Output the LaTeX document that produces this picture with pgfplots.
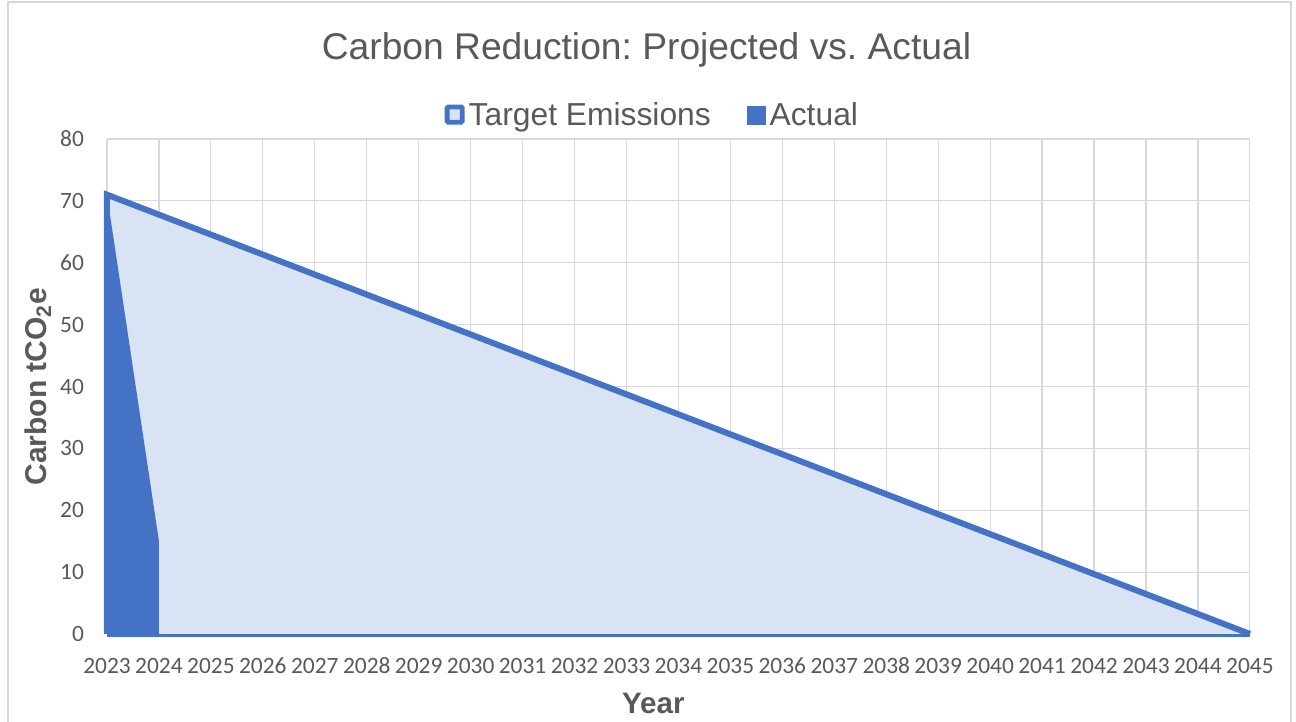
\documentclass[border=0pt]{standalone}
\usepackage{pgfplots}
\pgfplotsset{compat=1.18}
\usepackage{fontspec}
\setmainfont{Liberation Sans}
\newfontfamily\calfont{Carlito}
\frenchspacing
\definecolor{sblue}{HTML}{4472C4}
\definecolor{sfill}{HTML}{DAE3F3}
\definecolor{gridc}{HTML}{D9D9D9}
\definecolor{txt}{HTML}{595959}
\begin{document}
\begin{tikzpicture}
\useasboundingbox (0,0) rectangle (648pt,361pt);
\draw[gridc, line width=0.6pt] (4pt,-5pt) -- (4pt,360pt) -- (645.5pt,360pt) -- (645.5pt,-5pt);
\begin{axis}[
  at={(53.5pt,44pt)}, anchor=south west,
  scale only axis, width=571.5pt, height=247.5pt,
  xmin=2023, xmax=2045, ymin=0, ymax=80,
  xtick={2023,...,2045}, ytick={0,10,...,80},
  grid=major, grid style={gridc, line width=0.6pt},
  axis line style={draw=none},
  major tick length=0pt,
  clip=false,
  /pgf/number format/assume math mode=true,
  /pgf/number format/1000 sep={},
  ticklabel style={font=\fontsize{11.7}{13}\calfont, text=txt},
  xticklabel style={yshift=-8pt, text height=8pt, text depth=0pt},
  yticklabel style={xshift=-8pt},
  xlabel={Year}, ylabel={Carbon tCO\textsubscript{2}e},
  xlabel style={font=\fontsize{14.8}{16}\selectfont\bfseries, text=txt, at={(axis description cs:0.478,0)}, anchor=center, yshift=-34.5pt},
  ylabel style={font=\fontsize{15}{16}\selectfont\bfseries, text=txt, at={(axis description cs:-0.0604,0.5)}, anchor=center, rotate=0},
  title={Carbon Reduction: Projected vs. Actual},
  title style={font=\fontsize{18.6}{20}\selectfont, text=txt, at={(0.472,1)}, yshift=26.5pt},
  legend columns=2,
  legend style={at={(0.478,1.0)}, anchor=south, yshift=1pt, draw=none, fill=none,
    font=\fontsize{15.9}{17}\selectfont, text=txt,
    /tikz/every even column/.append style={column sep=16pt}},
]
\addplot[fill=sfill, draw=none, forget plot] coordinates {
(2023,71) (2024,67.77) (2025,64.55) (2026,61.32) (2027,58.09) (2028,54.86)
(2029,51.64) (2030,48.41) (2031,45.18) (2032,41.95) (2033,38.73) (2034,35.5)
(2035,32.27) (2036,29.05) (2037,25.82) (2038,22.59) (2039,19.36) (2040,16.14)
(2041,12.91) (2042,9.68) (2043,6.45) (2044,3.23) (2045,0)} \closedcycle;
\addplot[fill=sblue, draw=none, forget plot] coordinates {(2023,71) (2024,15)} \closedcycle;
\addplot[draw=sblue, line width=3pt, line join=miter, forget plot] coordinates {
(2023,0) (2023,71) (2024,67.77) (2025,64.55) (2026,61.32) (2027,58.09) (2028,54.86)
(2029,51.64) (2030,48.41) (2031,45.18) (2032,41.95) (2033,38.73) (2034,35.5)
(2035,32.27) (2036,29.05) (2037,25.82) (2038,22.59) (2039,19.36) (2040,16.14)
(2041,12.91) (2042,9.68) (2043,6.45) (2044,3.23) (2045,0)};
\addplot[draw=sblue, line width=1.6pt, forget plot] coordinates {(2023,-0.2) (2045,-0.2)};
\addlegendimage{legend image code/.code={\draw[fill=sfill, draw=sblue, line width=2.4pt, rounded corners=0.6pt] (1.2pt,-3.3pt) rectangle (8.8pt,4.3pt);}}
\addlegendentry{Target Emissions}
\addlegendimage{legend image code/.code={\fill[sblue] (0pt,-4.5pt) rectangle (9pt,4.5pt);}}
\addlegendentry{Actual}
\end{axis}
\end{tikzpicture}
\end{document}
